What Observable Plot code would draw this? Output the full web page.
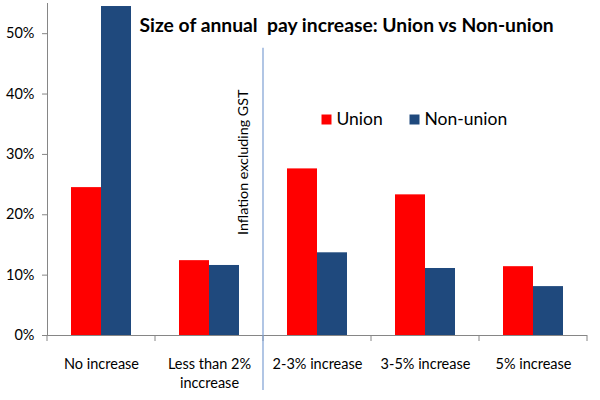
<!DOCTYPE html>
<html>
<head>
<meta charset="utf-8">
<script src="https://cdn.jsdelivr.net/npm/d3@7"></script>
<script src="https://cdn.jsdelivr.net/npm/@observablehq/plot@0.6"></script>
<style>
  html, body { margin: 0; padding: 0; background: #fff; }
  svg text { white-space: pre; }
</style>
</head>
<body>
<div id="chart"></div>
<script>
// ---- data ----
const categories = ["No increase", "Less than 2%\ninccrease", "2-3% increase", "3-5% increase", "5% increase"];
const series = ["Union", "Non-union"];
const unionValues = [24.5, 12.4, 27.6, 23.3, 11.4];
const nonUnionValues = [54.5, 11.6, 13.7, 11.1, 8.1];
const yTicks = [0, 10, 20, 30, 40, 50];
const yMax = 55;
const seriesColors = ["#ff0000", "#1f497d"];
const titleText = "Size of annual  pay increase: Union vs Non-union";
const inflationLabel = "Inflation excluding GST";
const inflationCategory = categories[2];   // marker drawn at the left edge of this category
const inflationLabelY = 28.7;
const inflationTop = 47.6;

const rows = categories.flatMap((c, i) => [
  {category: c, series: series[0], value: unionValues[i]},
  {category: c, series: series[1], value: nonUnionValues[i]}
]);

const axisGray = "#868686";
const font = "Lato, 'Open Sans', sans-serif";

const legendDx = [279, 367];

const chart = Plot.plot({
  width: 600,
  height: 400,
  marginLeft: 45,
  marginRight: 12,
  marginTop: 3,
  marginBottom: 65,
  style: {fontFamily: font, fontSize: "14.5px", color: "#000", background: "#fff"},
  fx: {domain: categories, padding: 0, label: null},
  x: {domain: series, paddingInner: 0, paddingOuter: 0.75, axis: null},
  y: {domain: [0, yMax], label: null},
  color: {domain: series, range: seriesColors},
  marks: [
    Plot.barY(rows, {fx: "category", x: "series", y: "value", fill: "series"}),
    Plot.ruleY([0], {stroke: axisGray}),
    Plot.frame({facet: "super", anchor: "left", stroke: axisGray}),
    Plot.axisY(yTicks, {tickFormat: d => d + "%", tickSize: 5, tickPadding: 8, stroke: axisGray, fill: "#000", fontSize: 14.5, label: null}),
    Plot.axisFx({anchor: "bottom", tickSize: 0, tickPadding: 20, lineHeight: 1.33, fontSize: 14.5, label: null}),
    // category boundary ticks and the inflation marker line
    Plot.frame({
      facet: "super",
      render: (index, scales, values, dimensions) => {
        const {fx, y} = scales;
        const g = d3.create("svg:g");
        const y0 = y(0);
        const edges = categories.map(c => fx(c)).concat([fx(categories[categories.length - 1]) + fx.bandwidth()]);
        for (const e of edges) {
          g.append("line").attr("x1", e).attr("x2", e).attr("y1", y0).attr("y2", y0 + 6)
            .attr("stroke", axisGray);
        }
        const xi = fx(inflationCategory);
        g.append("line").attr("x1", xi).attr("x2", xi)
          .attr("y1", y(inflationTop)).attr("y2", dimensions.height - 10)
          .attr("stroke", "#7d9fd3").attr("stroke-width", 1.2);
        return g.node();
      }
    }),
    Plot.text([inflationLabel], {
      fx: () => inflationCategory, y: () => inflationLabelY, text: d => d,
      frameAnchor: "left", dx: -20, rotate: -90, textAnchor: "middle", lineAnchor: "middle",
      fontSize: 14.3, fill: "#000"
    }),
    Plot.text([titleText], {
      facet: "super", frameAnchor: "top-left", dx: 92, dy: 15, text: d => d,
      textAnchor: "start", lineAnchor: "top", fontSize: 19.3, fontWeight: "bold", fill: "#000"
    }),
    ...series.map((s, i) => Plot.dot([s], {
      facet: "super", frameAnchor: "top-left", dx: legendDx[i], dy: 116,
      symbol: "square", r: 5.64, fill: d => d, stroke: null
    })),
    ...series.map((s, i) => Plot.text([s], {
      facet: "super", frameAnchor: "top-left", dx: legendDx[i] + 10, dy: 116,
      text: d => d, textAnchor: "start", lineAnchor: "middle", fontSize: 17.5, fill: "#000"
    }))
  ]
});

document.getElementById("chart").appendChild(chart);
</script>
</body>
</html>
